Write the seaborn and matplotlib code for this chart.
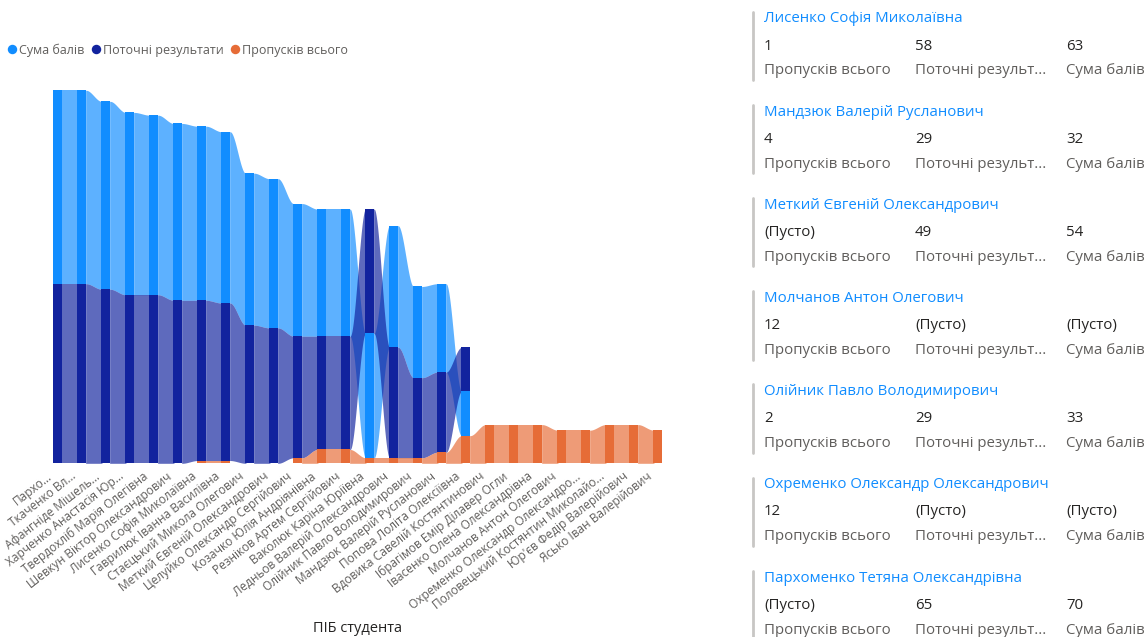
import numpy as np
import pandas as pd
import seaborn as sns
import matplotlib
matplotlib.use("Agg")
import matplotlib.pyplot as plt
from matplotlib.lines import Line2D
from matplotlib.transforms import ScaledTranslation

nan = np.nan

# ---- data -------------------------------------------------------------
student_labels = [
    "Пархо...", "Ткаченко Вл...", "Афангніде Мішель...", "Харченко Анастасія Юр...",
    "Твердохліб Марія Олегівна", "Шевкун Віктор Олександрович",
    "Лисенко Софія Миколаївна", "Гаврилюк Іванна Василівна",
    "Стаєцький Микола Олегович", "Меткий Євгеній Олександрович",
    "Целуйко Олександр Сергійович", "Козачко Юлія Андріянівна",
    "Резніков Артем Сергійович", "Ваколюк Каріна Юріївна",
    "Ледньов Валерій Олександрович", "Олійник Павло Володимирович",
    "Мандзюк Валерій Русланович", "Попова Лоліта Олексіївна",
    "Вдовика Савелій Костянтинович", "Ібрагімов Емір Ділавер Огли",
    "Івасенко Олена Олександрівна", "Молчанов Антон Олегович",
    "Охременко Олександр Олександро...", "Половецький Костянтин Миколайо...",
    "Юр'єв Федір Валерійович", "Ясько Іван Валерійович",
]

suma_baliv = [70, 70, 68, 66, 65, 64, 63, 62, 55, 54, 48, 46, 46,
              45, 44, 33, 32, 16, nan, nan, nan, nan, nan, nan, nan, nan]
potochni = [65, 65, 63, 61, 61, 59, 58, 57, 50, 49, 44, 41, 41,
            45, 40, 29, 29, 16, nan, nan, nan, nan, nan, nan, nan, nan]
propuskiv = [nan, nan, nan, nan, nan, nan, 1, 1, nan, nan, 2, 5, 5,
             2, 2, 2, 4, 10, 14, 14, 14, 12, 12, 14, 14, 12]

series_names = ["Сума балів", "Поточні результати", "Пропусків всього"]
series_colors = ["#118DFF", "#12239E", "#E66C37"]

# multi-row card: full names and the category each row refers to
card_names = [
    "Лисенко Софія Миколаївна", "Мандзюк Валерій Русланович",
    "Меткий Євгеній Олександрович", "Молчанов Антон Олегович",
    "Олійник Павло Володимирович", "Охременко Олександр Олександрович",
    "Пархоменко Тетяна Олександрівна",
]
card_index = [6, 16, 9, 21, 15, 22, 0]
card_fields = ["Пропусків всього", "Поточні результ...", "Сума балів"]

# ---- figure -----------------------------------------------------------
W, H = 1148, 637
sns.set_theme(style="white")
plt.rcParams["font.family"] = ["Open Sans", "DejaVu Sans"]

fig = plt.figure(figsize=(W / 100, H / 100), dpi=100)


def fx(px):
    return px / W


def fy(py):
    return 1 - py / H


# plot area: category spacing 24 px, first category centred at x=57.8,
# baseline at y=463.3, 2.763 px per unit
step = 24.0
x_first = 57.8
ax_left = x_first - 0.5 * step
ax_width = 26 * step
y_base = 463.3
unit = 2.763
y_max = 140
ax = fig.add_axes([fx(ax_left), fy(y_base), ax_width / W, y_max * unit / H])
ax.set_xlim(-0.5, 25.5)
ax.set_ylim(0, y_max)

df = pd.DataFrame({"student": student_labels,
                   "Сума балів": suma_baliv,
                   "Поточні результати": potochni,
                   "Пропусків всього": propuskiv})
n = len(df)

# ribbon stacking: within each category smaller values sit lower
tie_rank = {"Пропусків всього": 0, "Сума балів": 1, "Поточні результати": 2}
lows = {s: np.full(n, nan) for s in series_names}
highs = {s: np.full(n, nan) for s in series_names}
for i in range(n):
    present = sorted((df.loc[i, s], tie_rank[s], s) for s in series_names
                     if not np.isnan(df.loc[i, s]))
    base = 0.0
    for v, _, s in present:
        lows[s][i] = base
        highs[s][i] = base + v
        base += v

hw = 0.18
for s, c in zip(series_names, series_colors):
    lo_arr, hi_arr = lows[s], highs[s]
    for i in range(n - 1):
        if np.isnan(lo_arr[i]) or np.isnan(lo_arr[i + 1]):
            continue
        x0, x1 = i + hw, i + 1 - hw
        xs = np.linspace(x0, x1, 80)
        t = (xs - x0) / (x1 - x0)
        sm = t * t * (3 - 2 * t)
        lo = lo_arr[i] + (lo_arr[i + 1] - lo_arr[i]) * sm
        hi = hi_arr[i] + (hi_arr[i + 1] - hi_arr[i]) * sm
        xs_ext = np.concatenate([[x0 - 0.02], xs, [x1 + 0.02]])
        lo_ext = np.concatenate([[lo[0]], lo, [lo[-1]]])
        hi_ext = np.concatenate([[hi[0]], hi, [hi[-1]]])
        ax.fill_between(xs_ext, lo_ext, hi_ext, color=c, alpha=0.68,
                        linewidth=0, zorder=1)
    mask = ~np.isnan(lo_arr)
    xpos = np.arange(n)[mask]
    ax.bar(xpos, (hi_arr - lo_arr)[mask], bottom=lo_arr[mask], width=2 * hw,
           color=c, linewidth=0, zorder=2)

sns.despine(ax=ax, left=True, bottom=True, top=True, right=True)
ax.set_yticks([])
ax.set_xticks(range(n))
ax.set_xticklabels(df["student"], rotation=38, ha="right", va="center",
                   rotation_mode="anchor", fontsize=8.6, color="#605E5C")
ax.tick_params(axis="x", length=0, pad=8.4)
shift = ScaledTranslation(-7 / 100, 0, fig.dpi_scale_trans)
for lab in ax.get_xticklabels():
    lab.set_transform(lab.get_transform() + shift)
ax.grid(False)

fig.text(fx(358), fy(628), "ПІБ студента", ha="center", va="center",
         fontsize=10.5, color="#252423")

# legend
handles = [Line2D([0], [0], marker="o", linestyle="", markersize=6.8,
                  markerfacecolor=c, markeredgewidth=0) for c in series_colors]
fig.legend(handles, series_names, loc="center left",
           bbox_to_anchor=(fx(6), fy(50)), ncol=3, frameon=False,
           handletextpad=0.05, columnspacing=0.4, handlelength=1.0,
           fontsize=9.0, labelcolor="#605E5C", borderpad=0, borderaxespad=0)

# ---- multi-row card ---------------------------------------------------
col_x = [764, 915, 1066]
row_step = 93.17
for k, (name, idx) in enumerate(zip(card_names, card_index)):
    y0 = 18 + k * row_step
    fig.add_artist(Line2D([fx(752.5), fx(752.5)], [fy(y0 - 6.3), fy(y0 + 62)],
                          color="#C8C6C4", linewidth=2.0))
    fig.text(fx(col_x[0]), fy(y0 + 1), name, color="#118DFF", fontsize=10.8,
             va="center", ha="left")
    vals = [propuskiv[idx], potochni[idx], suma_baliv[idx]]
    for cx, v, field in zip(col_x, vals, card_fields):
        txt = "(Пусто)" if np.isnan(v) else f"{int(v)}"
        fig.text(fx(cx), fy(y0 + 28), txt, color="#252423", fontsize=10.8,
                 va="center", ha="left")
        fig.text(fx(cx), fy(y0 + 53), field, color="#605E5C", fontsize=10.8,
                 va="center", ha="left")

fig.savefig("out.png", dpi=100)
